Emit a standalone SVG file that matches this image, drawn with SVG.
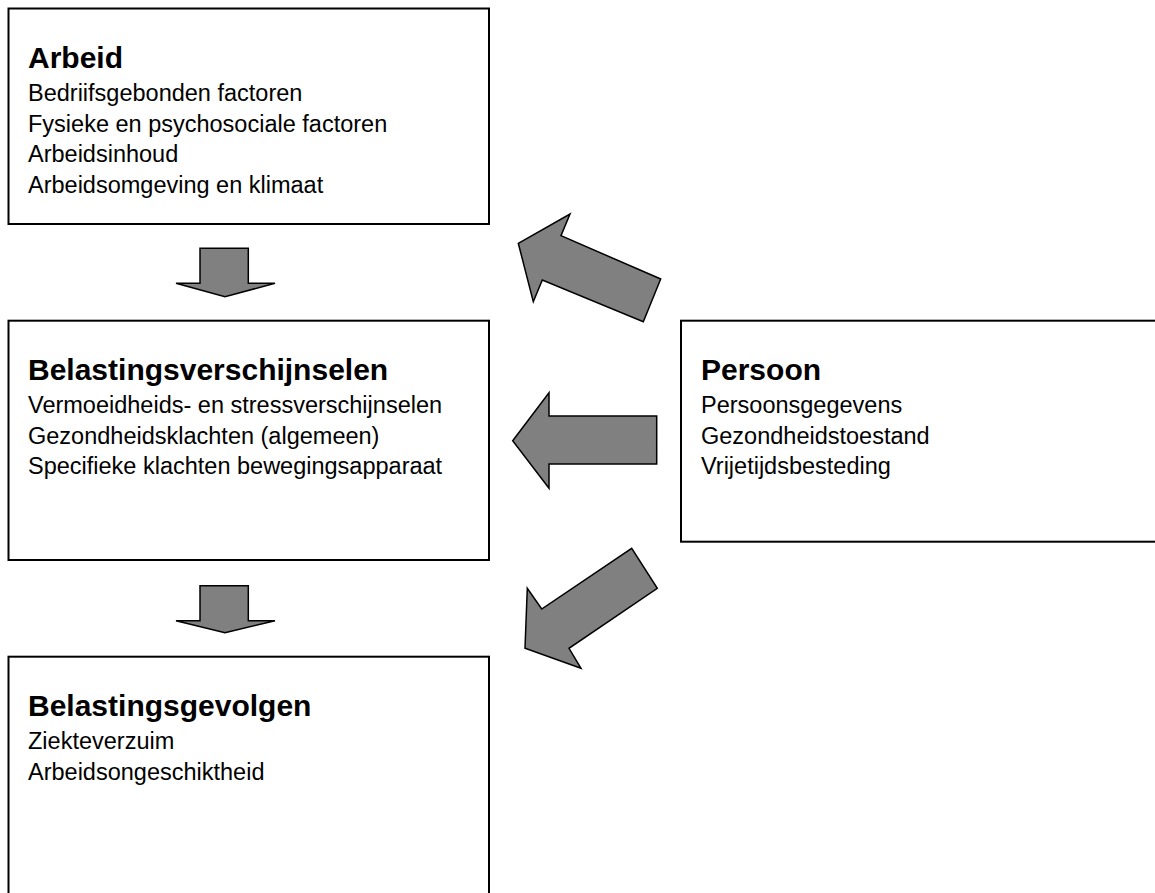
<svg xmlns="http://www.w3.org/2000/svg" width="1155" height="893" viewBox="0 0 1155 893">
<style>
.box{fill:#fff;stroke:#000;stroke-width:2}
.title{font-family:"Liberation Sans",Arial,sans-serif;font-weight:bold;font-size:30px;fill:#000}
.body{font-family:"Liberation Sans",Arial,sans-serif;font-size:23.5px;fill:#000}
.arrow{fill:#808080;stroke:#000;stroke-width:1.5;stroke-linejoin:miter}
</style>
<rect width="1155" height="893" fill="#fff"/>
<g id="node-arbeid">
<rect class="box" x="8.5" y="8.5" width="480.5" height="215.5"/>
<text class="title" x="28" y="68">Arbeid</text>
<text class="body" x="28" y="101">Bedriifsgebonden factoren</text>
<text class="body" x="28" y="131.7">Fysieke en psychosociale factoren</text>
<text class="body" x="28" y="162.4">Arbeidsinhoud</text>
<text class="body" x="28" y="193">Arbeidsomgeving en klimaat</text>
</g>
<g id="node-belastingsverschijnselen">
<rect class="box" x="8.5" y="320.7" width="480.5" height="239.3"/>
<text class="title" x="28" y="380">Belastingsverschijnselen</text>
<text class="body" x="28" y="413">Vermoeidheids- en stressverschijnselen</text>
<text class="body" x="28" y="443.5">Gezondheidsklachten (algemeen)</text>
<text class="body" x="28" y="474">Specifieke klachten bewegingsapparaat</text>
</g>
<g id="node-persoon">
<rect class="box" x="681" y="320.7" width="490" height="221"/>
<text class="title" x="701" y="380">Persoon</text>
<text class="body" x="701" y="413">Persoonsgegevens</text>
<text class="body" x="701" y="443.5">Gezondheidstoestand</text>
<text class="body" x="701" y="474">Vrijetijdsbesteding</text>
</g>
<g id="node-belastingsgevolgen">
<rect class="box" x="8.5" y="656.7" width="480.5" height="250"/>
<text class="title" x="28" y="716">Belastingsgevolgen</text>
<text class="body" x="28" y="749">Ziekteverzuim</text>
<text class="body" x="28" y="780">Arbeidsongeschiktheid</text>
</g>
<g id="connectors">
<polygon class="arrow" points="200,248.3 248.3,248.3 248.3,283.3 275,283.3 225,296.7 176,283.3 200,283.3"/>
<polygon class="arrow" points="200,585.7 248.3,585.7 248.3,620.7 275,620.7 225,632.7 176,620.7 200,620.7"/>
<polygon class="arrow" points="518.3,243.3 570,214 561,235.7 660.7,279 643.3,321.7 542.3,280 533.3,301.7"/>
<polygon class="arrow" points="512.7,440.7 549,392.7 549,416 656.7,416 656.7,464 549,464 549,488.3"/>
<polygon class="arrow" points="525,648.3 527.3,588.3 541.7,609 631.7,548.3 657.3,588.3 569,648.3 581,668.3"/>
</g>
</svg>
